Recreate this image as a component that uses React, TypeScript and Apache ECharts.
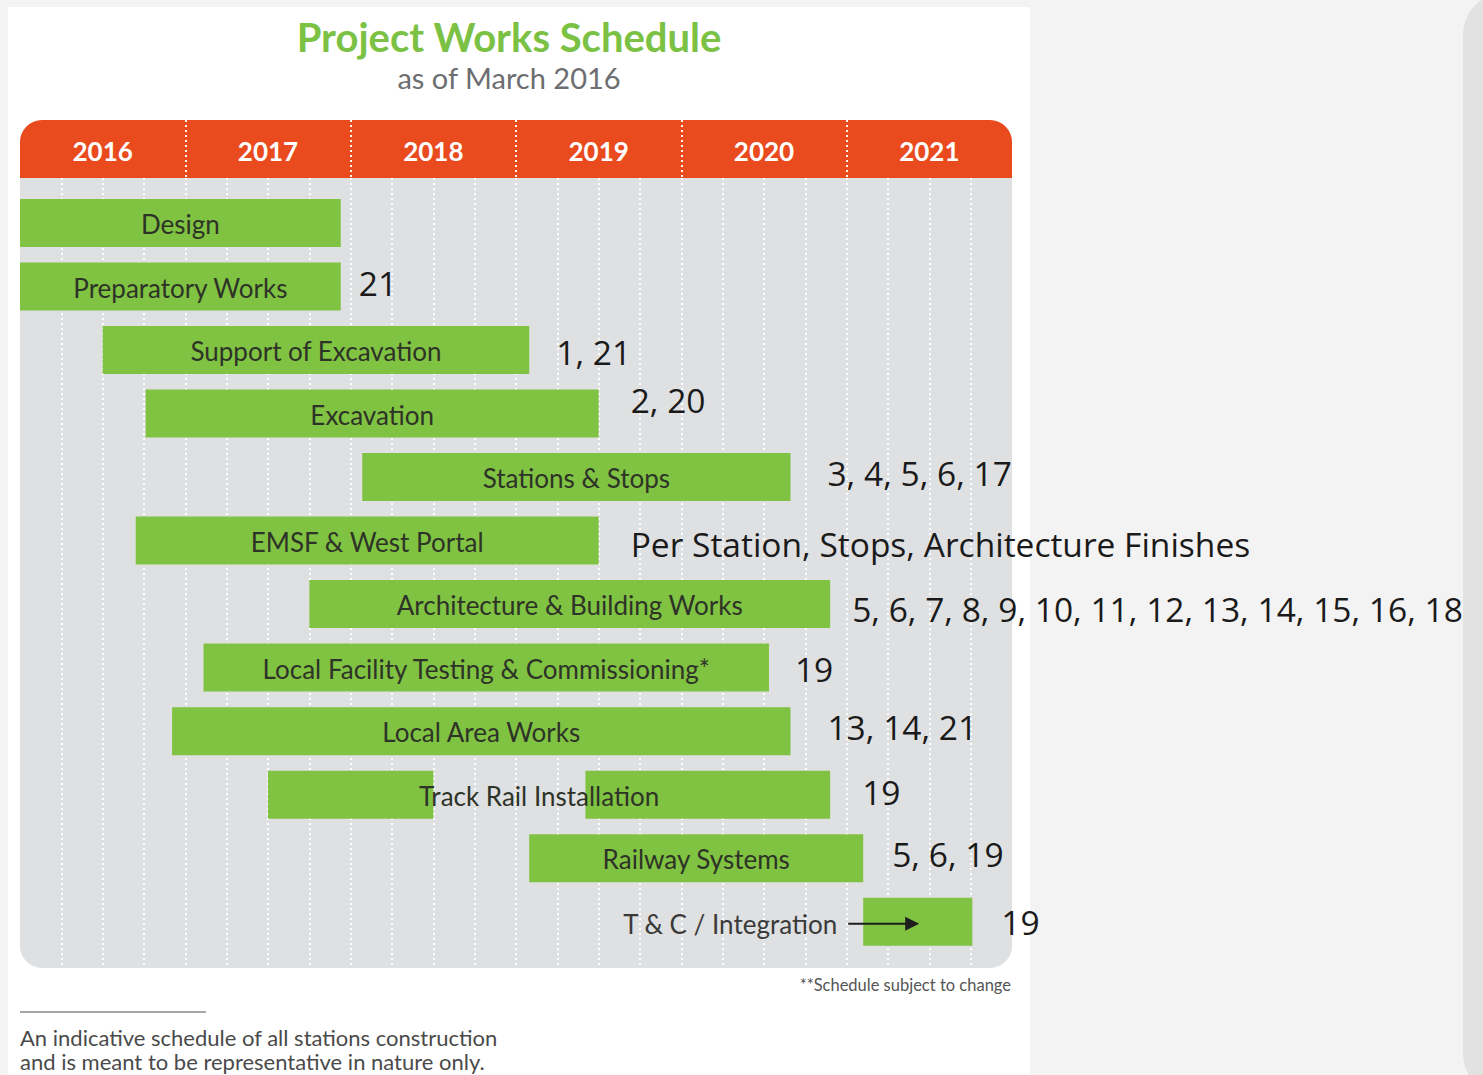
import React, { useEffect, useRef } from "react";
import * as echarts from "echarts";

// ---------- data ----------
const years = ["2016", "2017", "2018", "2019", "2020", "2021"];

const tasks = [
  "Design",
  "Preparatory Works",
  "Support of Excavation",
  "Excavation",
  "Stations & Stops",
  "EMSF & West Portal",
  "Architecture & Building Works",
  "Local Facility Testing & Commissioning*",
  "Local Area Works",
  "Track Rail Installation",
  "Railway Systems",
  "T & C / Integration",
];

// start / end as fractional years
const starts = [2016.0, 2016.0, 2016.5, 2016.76, 2018.07, 2016.7, 2017.75, 2017.11, 2016.92, 2017.5, 2019.08, 2021.1];
const ends = [2017.94, 2017.94, 2019.08, 2019.5, 2020.66, 2019.5, 2020.9, 2020.53, 2020.66, 2020.9, 2021.1, 2021.76];

// interruptions inside a bar: [row, from, to]
const gaps = [[9, 2018.5, 2019.42]];

// notes written to the right of each bar
const notes = [
  "",
  "21",
  "1, 21",
  "2, 20",
  "3, 4, 5, 6, 17",
  "Per Station, Stops, Architecture Finishes",
  "5, 6, 7, 8, 9, 10, 11, 12, 13, 14, 15, 16, 18",
  "19",
  "13, 14, 21",
  "19",
  "5, 6, 19",
  "19",
];

// rows whose name is written outside (left of) the bar, with an arrow
const outsideLabelRows = [11];

// ---------- layout / styling (px) ----------
const noteDx = [0, 18, 27, 32, 37, 32, 22, 26, 37, 32, 29, 29];
const noteDy = [0, -4, 2, -14, -4, 3, 5, 1, -4, -3, -4, 0];
const labelDx = [0, 0, 0, 0, 0, 0, 0, 0, 0, -10, 0, 0];

const GREEN = "#80c241";
const ORANGE = "#e94b1f";
const PANEL = "#dfe0e2";
const BAR_H = 48;
const LABEL_SIZE = 26;
const NOTE_SIZE = 33.5;

const dotted = {
  show: true,
  showMinLine: false,
  showMaxLine: false,
  lineStyle: { color: "#ffffff", width: 2, type: [2, 3], opacity: 0.95 },
};

function buildOption() {
  const taskData = tasks.map((t, i) => [i, starts[i], ends[i]]);
  const headerData = years.map((y) => [Number(y) + 0.5, 0.5]);

  return {
    animation: false,
    backgroundColor: "#f3f3f3",
    grid: [
      { left: 20, right: 471, top: 178, bottom: 107 },
      { left: 20, right: 471, top: 120, height: 58 },
    ],
    xAxis: [
      {
        type: "value",
        gridIndex: 0,
        min: 2016,
        max: 2022,
        interval: 0.25,
        axisLine: { show: false },
        axisTick: { show: false },
        axisLabel: { show: false },
        splitLine: dotted,
      },
      {
        type: "value",
        gridIndex: 1,
        min: 2016,
        max: 2022,
        interval: 1,
        axisLine: { show: false },
        axisTick: { show: false },
        axisLabel: { show: false },
        splitLine: dotted,
      },
    ],
    yAxis: [
      { type: "value", gridIndex: 0, min: -0.71, max: 11.73, inverse: true, show: false },
      { type: "value", gridIndex: 1, min: 0, max: 1, show: false },
    ],
    graphic: {
      elements: [
        { type: "rect", z: -30, shape: { x: 8, y: 7, width: 1022, height: 1090 }, style: { fill: "#ffffff" } },
        { type: "rect", z: -30, shape: { x: 1463, y: -6, width: 80, height: 1100, r: 40 }, style: { fill: "#e2e2e2" } },
        { type: "rect", z: -20, shape: { x: 20, y: 120, width: 992, height: 58, r: [22, 22, 0, 0] }, style: { fill: ORANGE } },
        { type: "rect", z: -20, shape: { x: 20, y: 178, width: 992, height: 790, r: [0, 0, 22, 22] }, style: { fill: PANEL } },
        {
          type: "text",
          x: 509,
          y: 37,
          style: {
            text: "Project Works Schedule",
            fill: "#7bc143",
            fontSize: 40,
            fontWeight: "bold",
            fontFamily: "Lato",
            align: "center",
            verticalAlign: "middle",
          },
        },
        {
          type: "text",
          x: 509,
          y: 77,
          style: {
            text: "as of March 2016",
            fill: "#6d6e71",
            fontSize: 29,
            fontFamily: "Lato",
            align: "center",
            verticalAlign: "middle",
          },
        },
        {
          type: "text",
          x: 1011,
          y: 985,
          style: {
            text: "**Schedule subject to change",
            fill: "#555555",
            fontSize: 16.5,
            fontFamily: "Lato",
            align: "right",
            verticalAlign: "middle",
          },
        },
        { type: "line", shape: { x1: 20, y1: 1012, x2: 206, y2: 1012 }, style: { stroke: "#8a8a8a", lineWidth: 1.5 } },
        {
          type: "text",
          x: 20,
          y: 1025,
          style: {
            text: "An indicative schedule of all stations construction\nand is meant to be representative in nature only.",
            fill: "#4a4a4a",
            fontSize: 22,
            lineHeight: 24.5,
            fontFamily: "Lato",
            align: "left",
            verticalAlign: "top",
          },
        },
      ],
    },
    series: [
      {
        type: "custom",
        name: "header",
        xAxisIndex: 1,
        yAxisIndex: 1,
        silent: true,
        data: headerData,
        renderItem: (params: any, api: any) => {
          const p = api.coord([api.value(0), api.value(1)]);
          return {
            type: "text",
            x: p[0],
            y: p[1] + 2,
            style: {
              text: years[params.dataIndex],
              fill: "#ffffff",
              fontSize: 26,
              fontWeight: "bold",
              fontFamily: "Lato",
              align: "center",
              verticalAlign: "middle",
            },
          };
        },
      },
      {
        type: "custom",
        name: "tasks",
        xAxisIndex: 0,
        yAxisIndex: 0,
        silent: true,
        encode: { x: [1, 2], y: 0 },
        data: taskData,
        renderItem: (params: any, api: any) => {
          const row = api.value(0);
          const s = api.value(1);
          const e = api.value(2);
          const i = params.dataIndex;
          const gap = gaps.find((g) => g[0] === row);
          const segs = gap ? [[s, gap[1]], [gap[2], e]] : [[s, e]];
          const children: any[] = [];
          segs.forEach((seg) => {
            const a = api.coord([seg[0], row]);
            const b = api.coord([seg[1], row]);
            children.push({
              type: "rect",
              shape: { x: a[0], y: a[1] - BAR_H / 2, width: b[0] - a[0], height: BAR_H },
              style: { fill: GREEN },
            });
          });
          const ps = api.coord([s, row]);
          const pe = api.coord([e, row]);
          const cy = ps[1];
          const outside = outsideLabelRows.indexOf(i) >= 0;
          if (outside) {
            children.push({
              type: "text",
              x: ps[0] - 26,
              y: cy + 2,
              z2: 10,
              style: {
                text: tasks[i],
                fill: "#3a3a3a",
                fontSize: LABEL_SIZE,
                fontFamily: "Lato",
                align: "right",
                verticalAlign: "middle",
              },
            });
            children.push({
              type: "line",
              z2: 10,
              shape: { x1: ps[0] - 15, y1: cy + 2, x2: ps[0] + 45, y2: cy + 2 },
              style: { stroke: "#1e1e1e", lineWidth: 2 },
            });
            children.push({
              type: "polygon",
              z2: 10,
              shape: {
                points: [
                  [ps[0] + 56, cy + 2],
                  [ps[0] + 42, cy - 5],
                  [ps[0] + 42, cy + 9],
                ],
              },
              style: { fill: "#1e1e1e" },
            });
          } else {
            children.push({
              type: "text",
              x: (ps[0] + pe[0]) / 2 + labelDx[i],
              y: cy + 1,
              z2: 10,
              style: {
                text: tasks[i],
                fill: "#2e3328",
                fontSize: LABEL_SIZE,
                fontFamily: "Lato",
                align: "center",
                verticalAlign: "middle",
              },
            });
          }
          if (notes[i]) {
            children.push({
              type: "text",
              x: pe[0] + noteDx[i],
              y: cy + noteDy[i],
              z2: 10,
              style: {
                text: notes[i],
                fill: "#1a1a1a",
                fontSize: NOTE_SIZE,
                fontFamily: "Open Sans",
                align: "left",
                verticalAlign: "middle",
              },
            });
          }
          return { type: "group", children };
        },
      },
    ],
  };
}

export default function App() {
  const ref = useRef<HTMLDivElement>(null);
  useEffect(() => {
    if (!ref.current) return;
    const chart = echarts.init(ref.current, null, { renderer: "svg" });
    chart.setOption(buildOption() as any);
    return () => chart.dispose();
  }, []);
  return (
    <div
      ref={ref}
      style={{ position: "fixed", left: 0, top: 0, width: 1483, height: 1075 }}
    />
  );
}
